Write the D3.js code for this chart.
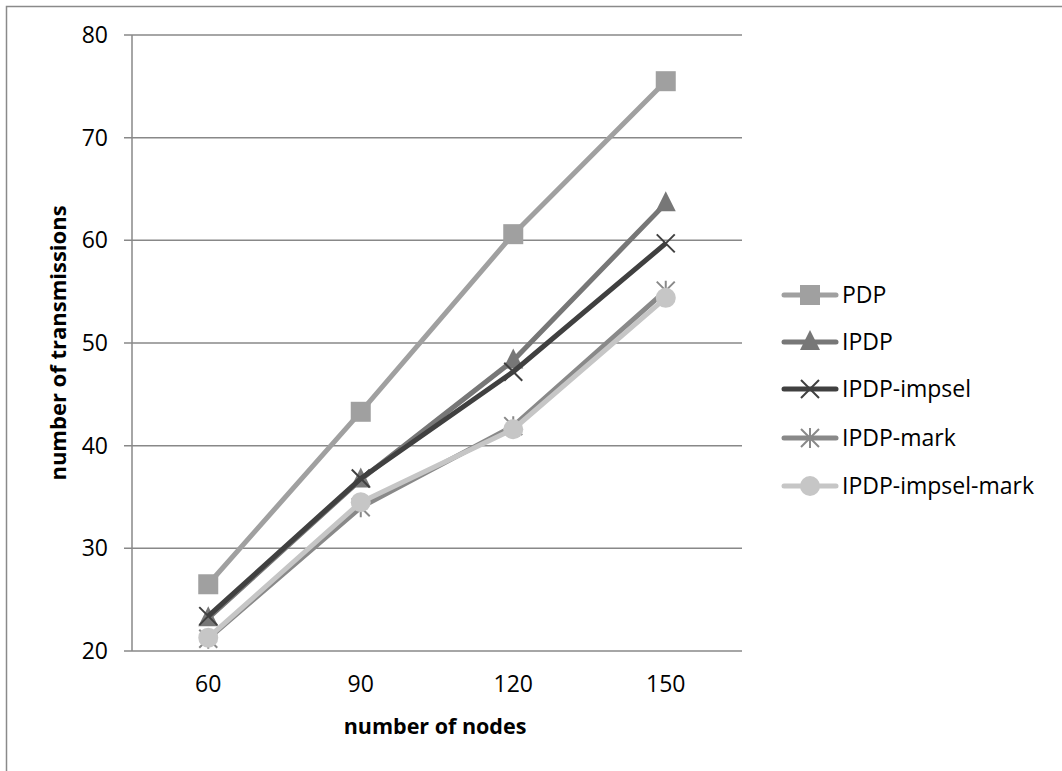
<!DOCTYPE html>
<html><head><meta charset="utf-8">
<script src="https://cdn.jsdelivr.net/npm/d3@7"></script>
<style>body{margin:0;background:#fff}svg{display:block}</style>
</head><body>
<svg id="c" width="1062" height="771"></svg>
<script>
const categories = ["60", "90", "120", "150"];
const yTicks = [20, 30, 40, 50, 60, 70, 80];
const seriesNames = ["PDP", "IPDP", "IPDP-impsel", "IPDP-mark", "IPDP-impsel-mark"];
const pdp = [26.5, 43.3, 60.6, 75.5];
const ipdp = [23.2, 36.7, 48.3, 63.6];
const ipdpImpsel = [23.4, 36.8, 47.2, 59.7];
const ipdpMark = [21.2, 34.0, 41.9, 55.1];
const ipdpImpselMark = [21.3, 34.5, 41.6, 54.4];
const seriesValues = [pdp, ipdp, ipdpImpsel, ipdpMark, ipdpImpselMark];
const colors = ["#a0a0a0", "#777777", "#404040", "#898989", "#c6c6c6"];
const markers = ["square", "triangle", "x", "star", "circle"];

const svg = d3.select("#c");
const font = "'Open Sans', sans-serif";
svg.append("rect").attr("x", 6.5).attr("y", 6.5).attr("width", 1200).attr("height", 900)
  .attr("fill", "none").attr("stroke", "#8a8a8a").attr("stroke-width", 1.5);

const pLeft = 132, pRight = 742, pTop = 35, pBottom = 651;
const x = d3.scaleBand().domain(categories).range([pLeft, pRight]);
const y = d3.scaleLinear().domain([20, 80]).range([pBottom, pTop]);

svg.append("g").selectAll("line").data(yTicks).join("line")
  .attr("x1", pLeft - 8).attr("x2", pRight)
  .attr("y1", d => y(d)).attr("y2", d => y(d))
  .attr("stroke", "#888").attr("stroke-width", 1.5);
svg.append("line").attr("x1", pLeft).attr("x2", pLeft).attr("y1", pTop).attr("y2", pBottom)
  .attr("stroke", "#888").attr("stroke-width", 1.5);

svg.append("g").selectAll("text").data(yTicks).join("text")
  .attr("x", pLeft - 24).attr("y", d => y(d)).attr("dy", "0.35em")
  .attr("text-anchor", "end").attr("font-family", font).attr("font-size", 23)
  .text(d => d);
svg.append("g").selectAll("text").data(categories).join("text")
  .attr("x", d => x(d) + x.bandwidth() / 2).attr("y", pBottom + 41)
  .attr("text-anchor", "middle").attr("font-family", font).attr("font-size", 23)
  .text(d => d);

svg.append("text").attr("x", 435).attr("y", 734).attr("text-anchor", "middle")
  .attr("font-family", font).attr("font-size", 21.5).attr("font-weight", "bold")
  .text("number of nodes");
svg.append("text").attr("transform", "translate(66,343) rotate(-90)").attr("text-anchor", "middle")
  .attr("font-family", font).attr("font-size", 22).attr("font-weight", "bold")
  .text("number of transmissions");

function drawMarker(g, type, cx, cy, color) {
  if (type === "square") {
    g.append("rect").attr("x", cx - 10).attr("y", cy - 10).attr("width", 20).attr("height", 20).attr("fill", color);
  } else if (type === "triangle") {
    g.append("path").attr("d", `M${cx},${cy - 12}L${cx + 10},${cy + 8}L${cx - 10},${cy + 8}Z`).attr("fill", color);
  } else if (type === "x") {
    g.append("path").attr("d", `M${cx - 9},${cy - 9}L${cx + 9},${cy + 9}M${cx - 9},${cy + 9}L${cx + 9},${cy - 9}`)
      .attr("stroke", color).attr("stroke-width", 2).attr("fill", "none");
  } else if (type === "star") {
    g.append("path").attr("d", `M${cx - 9},${cy - 9}L${cx + 9},${cy + 9}M${cx - 9},${cy + 9}L${cx + 9},${cy - 9}M${cx},${cy - 10}L${cx},${cy + 10}`)
      .attr("stroke", color).attr("stroke-width", 2).attr("fill", "none");
  } else if (type === "circle") {
    g.append("circle").attr("cx", cx).attr("cy", cy).attr("r", 10).attr("fill", color);
  }
}

const line = d3.line().x((d, i) => x(categories[i]) + x.bandwidth() / 2).y(d => y(d));
seriesValues.forEach((vals, s) => {
  const g = svg.append("g");
  g.append("path").datum(vals).attr("d", line).attr("fill", "none")
    .attr("stroke", colors[s]).attr("stroke-width", 5).attr("stroke-linejoin", "round");
  vals.forEach((v, i) => drawMarker(g, markers[s], x(categories[i]) + x.bandwidth() / 2, y(v), colors[s]));
});

const legY = [295, 342, 389, 438, 486];
seriesNames.forEach((name, s) => {
  const g = svg.append("g");
  g.append("line").attr("x1", 784).attr("x2", 836).attr("y1", legY[s]).attr("y2", legY[s])
    .attr("stroke", colors[s]).attr("stroke-width", 5).attr("stroke-linecap", "round");
  drawMarker(g, markers[s], 810, legY[s], colors[s]);
  g.append("text").attr("x", 842).attr("y", legY[s]).attr("dy", "0.35em")
    .attr("font-family", font).attr("font-size", 23).text(name);
});
</script>
</body></html>
